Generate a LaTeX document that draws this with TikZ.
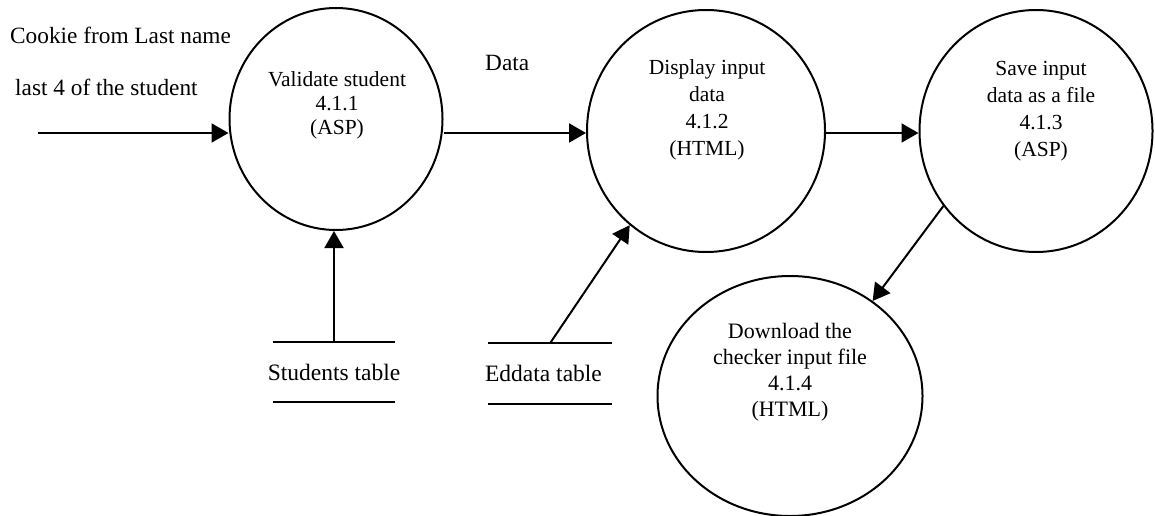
\documentclass[tikz,border=0pt]{standalone}
\usepackage{fontspec}
\setmainfont{Liberation Serif}
\usepackage{tikz}
\usetikzlibrary{shapes.geometric}
\usetikzlibrary{arrows.meta}

\begin{document}
\begin{tikzpicture}[x=1pt, y=-1pt,
	process/.style={draw, ellipse, line width=2pt, inner sep=0},
	flow/.style={line width=2pt, -{Triangle[length=17pt, width=19pt]}},
	proclabel/.style={align=center, inner sep=0, font=\fontsize{21.5}{27}\selectfont},
	store/.style={minimum width=#1, minimum height=60pt, inner sep=0, font=\fontsize{23.5}{26}\selectfont},
	side/.style={anchor=west, inner sep=0, font=\fontsize{23.3}{26}\selectfont}]
		\useasboundingbox (0,0) rectangle (1155,516);
		% processes
		\node[process, minimum width=213pt, minimum height=222pt] (p1) at (336,119) {};
		\node[process, minimum width=238pt, minimum height=242pt] (p2) at (706,131) {};
		\node[process, minimum width=233pt, minimum height=242pt] (p3) at (1036,131) {};
		\node[process, minimum width=265pt, minimum height=240pt] (p4) at (790,396) {};
		\node[proclabel, font=\fontsize{21.5}{24}\selectfont] (t1) at (337,105) {Validate student\\4.1.1\\(ASP)};
		\node[proclabel] (t2) at (707,110) {Display input\\data\\4.1.2\\(HTML)};
		\node[proclabel] (t3) at (1041,111) {Save input\\data as a file\\4.1.3\\(ASP)};
		\node[proclabel, font=\fontsize{22}{26}\selectfont] (t4) at (790,372) {Download the\\checker input file\\4.1.4\\(HTML)};
		% data stores
		\node[store=122pt] (stud) at (334,372) {\makebox[0pt]{Students table}};
		\node[store=124pt] (edd) at (550,373.5) {\makebox[0pt]{Eddata table\hspace*{13pt}}};
		\draw[line width=2pt] (stud.north west) -- (stud.north east) (stud.south west) -- (stud.south east);
		\draw[line width=2pt] (edd.north west) -- (edd.north east) (edd.south west) -- (edd.south east);
		% labels
		\node[side] (cookie) at (10,35) {Cookie from Last name};
		\node[side] (last) at (15,87) {last 4 of the student};
		\node[side] (data) at (485,63) {Data};
		% flows
		\coordinate (src) at (38,133);
		\draw[flow] (src) -- (src -| p1.west);
		\draw[flow] (p1.east |- src) -- (p2.west |- src);
		\draw[flow] (p2.east |- src) -- (p3.west |- src);
		\draw[flow] (stud.north) -- (stud.north |- p1.south);
		\draw[flow] (edd.north) -- (p2.231);
		\draw[flow] (p3.219) -- (p4.49);
\end{tikzpicture}
\end{document}
